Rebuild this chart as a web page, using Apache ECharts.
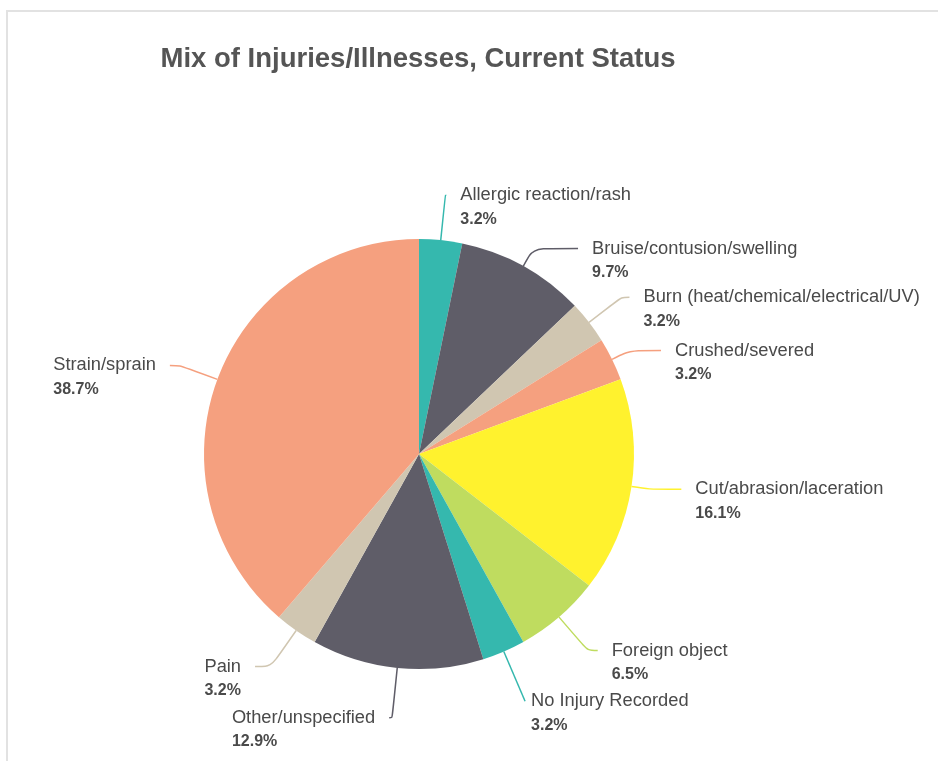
<!DOCTYPE html>
<html>
<head>
<meta charset="utf-8">
<script src="https://cdn.jsdelivr.net/npm/echarts@6/dist/echarts.min.js"></script>
<style>
  body { margin: 0; background: #fff; }
  #chart { position: absolute; left: 0; top: 0; width: 938px; height: 761px; }
  #frame {
    position: absolute; left: 6px; top: 10px; width: 940px; height: 760px;
    border-top: 2px solid #e2e2e2; border-left: 2px solid #e2e2e2;
    pointer-events: none;
  }
</style>
</head>
<body>
<div id="chart"></div>
<div id="frame"></div>
<script>
// categories, clockwise from 12 o'clock
const categories = [
  'Allergic reaction/rash',
  'Bruise/contusion/swelling',
  'Burn (heat/chemical/electrical/UV)',
  'Crushed/severed',
  'Cut/abrasion/laceration',
  'Foreign object',
  'No Injury Recorded',
  'Other/unspecified',
  'Pain',
  'Strain/sprain'
]
// counts (31 total)
const counts = [1, 3, 1, 1, 5, 2, 1, 4, 1, 12]
const colors = ['#35b8ae', '#5f5d68', '#d0c6b1', '#f5a07f', '#fff22e',
  '#bfdc5f', '#35b8ae', '#5f5d68', '#d0c6b1', '#f5a07f']
// label line [length, length2] per slice
const lines = [[45, 1], [20, 45], [41, 8], [20, 31], [18, 32],
  [44, 10], [54, 0], [50, 3], [44, 16], [40, 10]]

const chart = echarts.init(document.getElementById('chart'))
chart.setOption({
  animation: false,
  title: {
    text: 'Mix of Injuries/Illnesses, Current Status',
    left: 413,
    textAlign: 'center',
    top: 40,
    textStyle: {
      fontFamily: 'Liberation Sans, Arial',
      fontSize: 27.5,
      fontWeight: 'bold',
      color: '#555'
    }
  },
  series: [{
    type: 'pie',
    center: [419, 454],
    radius: 215,
    startAngle: 90,
    clockwise: true,
    avoidLabelOverlap: false,
    data: categories.map((c, i) => ({
      name: c,
      value: counts[i],
      itemStyle: { color: colors[i] },
      label: i === 6 ? { distanceToLabelLine: 6 } : {},
      labelLine: { length: lines[i][0], length2: lines[i][1], lineStyle: { color: colors[i] } }
    })),
    label: {
      show: true,
      position: 'outside',
      formatter: p => '{n|' + p.name + '}\n{p|' + p.percent.toFixed(1) + '%}',
      distanceToLabelLine: 14,
      padding: [24, 0, 0, 0],
      rich: {
        n: { fontFamily: 'Liberation Sans, Arial', fontSize: 18.3, color: '#4a4a4a', lineHeight: 24, align: 'left' },
        p: { fontFamily: 'Liberation Sans, Arial', fontSize: 16, fontWeight: 'bold', color: '#4a4a4a', lineHeight: 24, align: 'left' }
      }
    },
    labelLine: {
      show: true,
      smooth: 0.3,
      lineStyle: { width: 1.5 }
    },
    itemStyle: { borderWidth: 0 }
  }]
})
</script>
</body>
</html>
